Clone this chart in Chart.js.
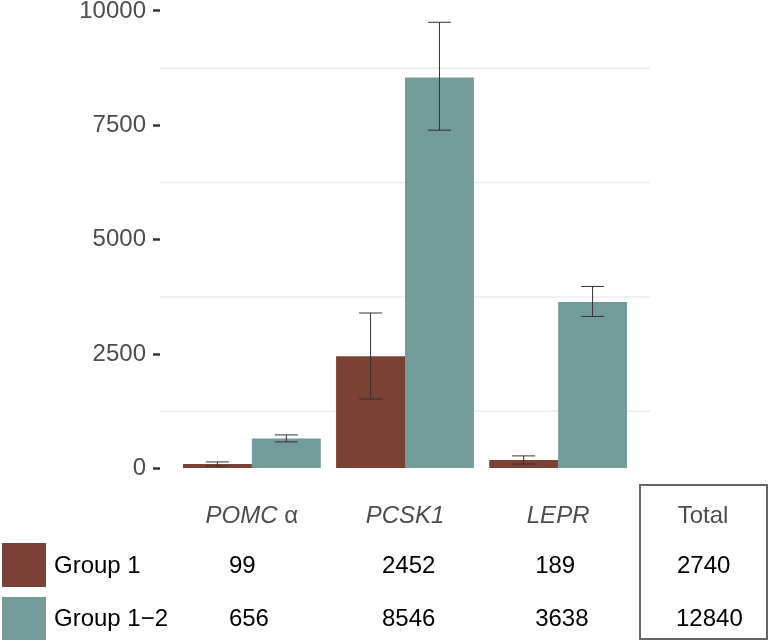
<!DOCTYPE html>
<html>
<head>
<meta charset="utf-8">
<script src="https://cdn.jsdelivr.net/npm/chart.js@4/dist/chart.umd.min.js"></script>
<style>
  body { margin: 0; background: #fff; }
  #wrap { position: relative; width: 769px; height: 643px; font-family: "Liberation Sans", Arial, sans-serif; }
  #wrap canvas { position: absolute; left: 0; top: 0; }
  .cell { position: absolute; font-size: 24px; line-height: 28px; white-space: nowrap; }
  .head { color: #4d4d4d; font-style: italic; transform: translate(-50%, -50%); }
  .head .greek { font-style: normal; }
  .num { color: #000; transform: translateY(-50%); }
  .swatch { position: absolute; left: 2px; width: 44px; }
  #totalBox { position: absolute; left: 639px; top: 484px; width: 129px; height: 156px; box-sizing: border-box; border: 2px solid #666; }
</style>
</head>
<body>
<div id="wrap">
  <canvas id="chart"></canvas>
  <div id="table"></div>
  <div id="totalBox"></div>
</div>
<script>
const categories = ['POMC α', 'PCSK1', 'LEPR'];
const groupNames = ['Group 1', 'Group 1−2'];
const group1 = [99, 2452, 189];
const group12 = [656, 8546, 3638];
const group1Low = [55, 1520, 100];
const group1High = [145, 3400, 277];
const group12Low = [583, 7395, 3325];
const group12High = [736, 9753, 3980];
const totals = [2740, 12840];
const yTicks = [0, 2500, 5000, 7500, 10000];
const minorGrid = [1250, 3750, 6250, 8750];

const colors = ['#7a4134', '#739b99'];

const minorGridPlugin = {
  id: 'minorGrid',
  beforeDatasetsDraw(chart) {
    const { ctx, chartArea, scales } = chart;
    ctx.save();
    ctx.strokeStyle = '#ebebeb';
    ctx.lineWidth = 1.5;
    minorGrid.forEach(v => {
      const y = scales.y.getPixelForValue(v);
      ctx.beginPath();
      ctx.moveTo(chartArea.left, y);
      ctx.lineTo(chartArea.right, y);
      ctx.stroke();
    });
    ctx.restore();
  }
};

const errorBarPlugin = {
  id: 'errorBars',
  afterDatasetsDraw(chart) {
    const { ctx, scales } = chart;
    ctx.save();
    ctx.strokeStyle = '#333';
    ctx.lineWidth = 1;
    chart.data.datasets.forEach((ds, di) => {
      const meta = chart.getDatasetMeta(di);
      meta.data.forEach((bar, i) => {
        const top = scales.y.getPixelForValue(ds.high[i]);
        const bottom = scales.y.getPixelForValue(ds.low[i]);
        const cap = bar.width / 6;
        ctx.beginPath();
        ctx.moveTo(bar.x, top);
        ctx.lineTo(bar.x, bottom);
        ctx.moveTo(bar.x - cap, top);
        ctx.lineTo(bar.x + cap, top);
        ctx.moveTo(bar.x - cap, bottom);
        ctx.lineTo(bar.x + cap, bottom);
        ctx.stroke();
      });
    });
    ctx.restore();
  }
};

const chart = new Chart(document.getElementById('chart'), {
  type: 'bar',
  data: {
    datasets: [
      {
        label: groupNames[0],
        data: group1.map((v, i) => ({ x: i + 1, y: v })),
        low: group1Low,
        high: group1High,
        backgroundColor: colors[0]
      },
      {
        label: groupNames[1],
        data: group12.map((v, i) => ({ x: i + 1, y: v })),
        low: group12Low,
        high: group12High,
        backgroundColor: colors[1]
      }
    ]
  },
  options: {
    responsive: true,
    maintainAspectRatio: false,
    animation: false,
    categoryPercentage: 0.9,
    barPercentage: 1,
    layout: { padding: { left: 0, top: 0, right: 119, bottom: 151 } },
    plugins: { legend: { display: false }, tooltip: { enabled: false } },
    scales: {
      x: {
        type: 'linear',
        min: 0.4,
        max: 3.6,
        offset: false,
        display: false,
        afterBuildTicks: axis => { axis.ticks = categories.map((c, i) => ({ value: i + 1 })); }
      },
      y: {
        min: -512,
        max: 10240,
        afterBuildTicks: axis => { axis.ticks = yTicks.map(v => ({ value: v })); },
        afterFit: axis => {
          axis.width = 160;
          axis.paddingTop = 0;
          axis.paddingBottom = 0;
        },
        border: { display: false },
        grid: {
          drawOnChartArea: false,
          tickLength: 7,
          tickColor: '#333',
          tickWidth: 2.5
        },
        ticks: {
          padding: 7,
          color: '#4d4d4d',
          font: { family: '"Liberation Sans", Arial, sans-serif', size: 24 },
          callback: v => String(v)
        }
      }
    }
  },
  plugins: [minorGridPlugin, errorBarPlugin]
});

// table under the plot, columns lined up with the x scale
const table = document.getElementById('table');
function addCell(text, cls, left, top) {
  const d = document.createElement('div');
  d.className = 'cell ' + cls;
  d.textContent = text;
  d.style.left = left + 'px';
  d.style.top = top + 'px';
  table.appendChild(d);
  return d;
}
const headY = 515;
const rowY = [565, 618];
const xs = chart.scales.x;
categories.forEach((c, i) => {
  const cx = xs.getPixelForValue(i + 1);
  const h = addCell('', 'head', cx, headY);
  const parts = c.split(' ');
  h.textContent = parts[0];
  if (parts[1]) {
    const g = document.createElement('span');
    g.className = 'greek';
    g.textContent = ' ' + parts[1];
    h.appendChild(g);
  }
  addCell(String(group1[i]), 'num', cx - 23, rowY[0]);
  addCell(String(group12[i]), 'num', cx - 23, rowY[1]);
});
addCell('Total', 'head', 703, headY).style.fontStyle = 'normal';
addCell(String(totals[0]), 'num', 677, rowY[0]);
addCell(String(totals[1]), 'num', 676, rowY[1]);

[[543, 44], [597, 43]].forEach((s, i) => {
  const sw = document.createElement('div');
  sw.className = 'swatch';
  sw.style.top = s[0] + 'px';
  sw.style.height = s[1] + 'px';
  sw.style.background = colors[i];
  table.appendChild(sw);
  addCell(groupNames[i], 'num', 54, rowY[i]);
});
</script>
</body>
</html>
